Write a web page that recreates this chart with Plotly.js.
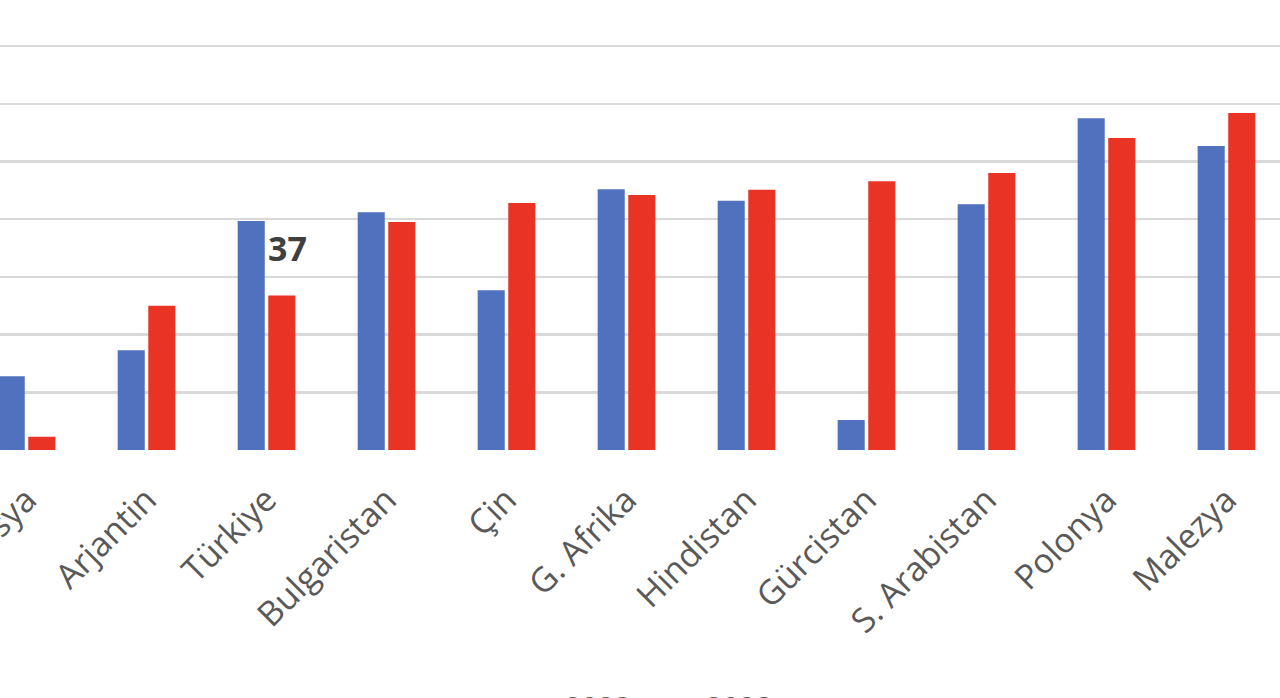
<!DOCTYPE html>
<html>
<head>
<meta charset="utf-8">
<script src="https://cdn.plot.ly/plotly-3.0.1.min.js"></script>
<style>html,body{margin:0;padding:0;background:#fff;overflow:hidden}#chart{width:1280px;height:698px}</style>
</head>
<body>
<div id="chart"></div>
<script>
const categories = ["Rusya","Arjantin","Türkiye","Bulgaristan","Çin","G. Afrika","Hindistan","Gürcistan","S. Arabistan","Polonya","Malezya"];
const series1Name = "2022";
const series2Name = "2023";
const series1 = [22.8, 27.3, 49.7, 51.2, 37.7, 55.2, 53.2, 15.2, 52.6, 67.5, 62.7];
const series2 = [12.3, 35.0, 36.8, 49.5, 52.8, 54.2, 55.1, 56.6, 58.0, 64.1, 68.4];
const labelled = ["Türkiye"];

const font = "'Open Sans', 'DejaVu Sans', sans-serif";
const trace1 = {
  type: "bar", name: series1Name, x: categories, y: series1,
  marker: {color: "#4F71BE"}, hoverinfo: "none"
};
const trace2 = {
  type: "bar", name: series2Name, x: categories, y: series2,
  marker: {color: "#E93324"}, hoverinfo: "none"
};
const annotations = labelled.map(c => {
  const i = categories.indexOf(c);
  return {
    x: c, y: series2[i], xref: "x", yref: "y",
    text: String(Math.round(series2[i])), showarrow: false,
    xanchor: "center", yanchor: "bottom", xshift: 21, yshift: 22,
    font: {family: font, size: 34, color: "#404040", weight: 700}
  };
});
const layout = {
  width: 1280, height: 698,
  margin: {l: 0, r: 0, t: 0, b: 248, pad: 0, autoexpand: false},
  paper_bgcolor: "#fff", plot_bgcolor: "#fff",
  barmode: "group", bargap: 0.49, bargroupgap: 0.115,
  showlegend: true,
  annotations: annotations,
  legend: {orientation: "h", x: 525 / 1280, xanchor: "left", y: -0.513, yanchor: "top",
           entrywidth: 96, entrywidthmode: "pixels",
           font: {family: font, size: 29, color: "#595959"}},
  xaxis: {
    type: "category", range: [-0.221, 10.446], tickangle: -45, automargin: false,
    tickfont: {family: font, size: 34, color: "#595959"}, ticklabelstandoff: 22,
    showgrid: false, showline: false, ticks: "", zeroline: false
  },
  yaxis: {
    range: [10, 88], tick0: 0, dtick: 10, showticklabels: false, automargin: false,
    showgrid: true, gridcolor: "#D9D9D9", gridwidth: 2.5, zeroline: false, ticks: ""
  }
};
Plotly.newPlot("chart", [trace1, trace2], layout, {displayModeBar: false, staticPlot: true});
</script>
</body>
</html>
